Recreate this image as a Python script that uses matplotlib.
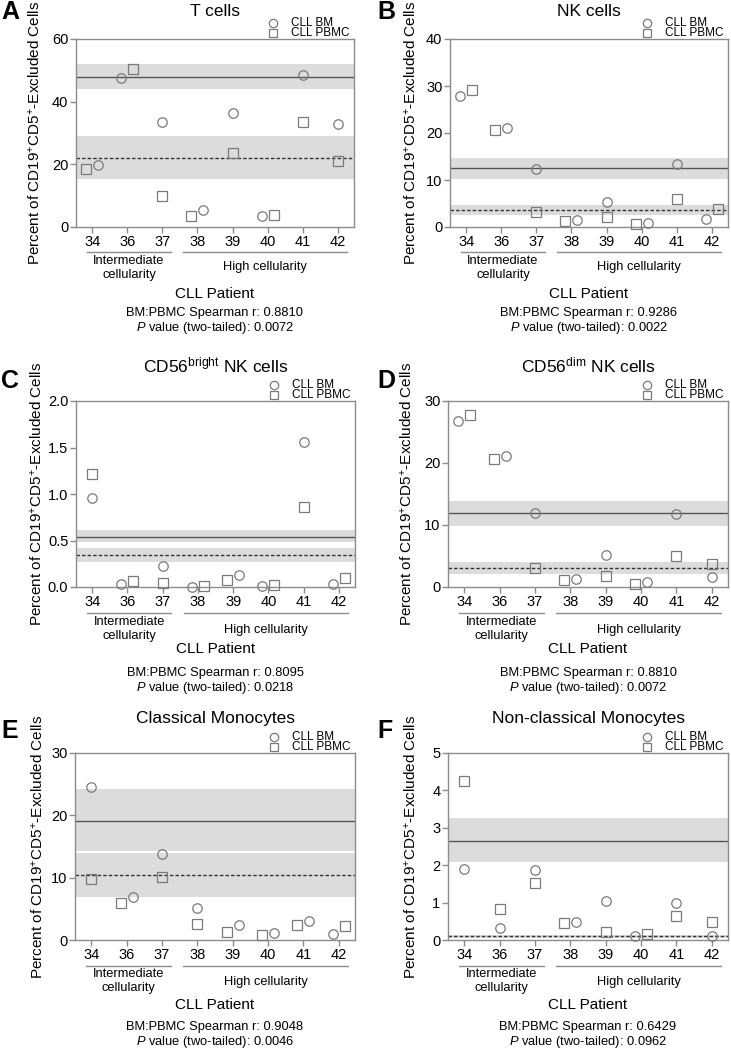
import numpy as np
import matplotlib
matplotlib.use('Agg')
import matplotlib.pyplot as plt
from matplotlib.transforms import blended_transform_factory

plt.rcParams['font.family'] = ['Liberation Sans', 'DejaVu Sans']
plt.rcParams['mathtext.fontset'] = 'custom'
plt.rcParams['mathtext.rm'] = 'Liberation Sans'
plt.rcParams['mathtext.it'] = 'Liberation Sans:italic'

patients = ['34', '36', '37', '38', '39', '40', '41', '42']

# values; *_ref = [line, band low, band high]
t_bm = [19.7, 47.7, 33.6, 5.4, 36.4, 3.6, 48.5, 33.0]
t_pbmc = [18.4, 50.3, 10.0, 3.4, 23.7, 3.8, 33.6, 21.0]
t_bm_ref = [48.0, 44.1, 52.0]
t_pbmc_ref = [21.9, 15.2, 29.0]

nk_bm = [27.9, 21.1, 12.3, 1.4, 5.3, 0.9, 13.5, 1.7]
nk_pbmc = [29.1, 20.6, 3.2, 1.3, 2.1, 0.7, 5.9, 3.9]
nk_bm_ref = [12.45, 10.3, 14.6]
nk_pbmc_ref = [3.56, 2.5, 4.6]

bright_bm = [0.955, 0.029, 0.225, 0.004, 0.132, 0.015, 1.556, 0.029]
bright_pbmc = [1.216, 0.064, 0.047, 0.014, 0.072, 0.020, 0.859, 0.100]
bright_bm_ref = [0.537, 0.479, 0.608]
bright_pbmc_ref = [0.343, 0.272, 0.415]

dim_bm = [26.8, 21.1, 12.0, 1.29, 5.1, 0.75, 11.8, 1.56]
dim_pbmc = [27.8, 20.6, 3.06, 1.13, 1.8, 0.54, 5.0, 3.76]
dim_bm_ref = [11.86, 9.77, 13.9]
dim_pbmc_ref = [3.11, 2.15, 4.03]

cmono_bm = [24.6, 6.9, 13.77, 5.2, 2.36, 1.12, 3.05, 0.91]
cmono_pbmc = [9.75, 6.0, 10.07, 2.6, 1.23, 0.8, 2.41, 2.2]
cmono_bm_ref = [19.12, 14.3, 24.26]
cmono_pbmc_ref = [10.45, 6.96, 13.93]

ncmono_bm = [1.91, 0.31, 1.87, 0.47, 1.05, 0.10, 1.00, 0.10]
ncmono_pbmc = [4.26, 0.82, 1.53, 0.455, 0.22, 0.16, 0.65, 0.49]
ncmono_bm_ref = [2.66, 2.09, 3.26]
ncmono_pbmc_ref = [0.098, 0.06, 0.14]

titles = ['T cells', 'NK cells', r'CD56$^{\mathrm{bright}}$ NK cells',
          r'CD56$^{\mathrm{dim}}$ NK cells', 'Classical Monocytes',
          'Non-classical Monocytes']
letters = ['A', 'B', 'C', 'D', 'E', 'F']
spearman_r = ['0.8810', '0.9286', '0.8095', '0.8810', '0.9048', '0.6429']
p_values = ['0.0072', '0.0022', '0.0218', '0.0072', '0.0046', '0.0962']

W, H = 731, 1050
fig = plt.figure(figsize=(W / 100, H / 100), dpi=100)


def fx(x):
    return x / W


def fy(y):
    return 1 - y / H


grey = '#8c8c8c'
band = '#dcdcdc'


def draw_panel(k, rect, bm, pbmc, bm_ref, pbmc_ref, ymax, yticks, yfmt, rows, ylab_x):
    l, t, r, b = rect
    ax = fig.add_axes([fx(l), fy(b), (r - l) / W, (b - t) / H])
    x = np.arange(len(patients))

    ax.axhspan(bm_ref[1], bm_ref[2], color=band, lw=0, zorder=0)
    ax.axhspan(pbmc_ref[1], pbmc_ref[2], color=band, lw=0, zorder=0)
    ax.axhline(bm_ref[0], color='#555555', lw=1, zorder=1)
    ax.axhline(pbmc_ref[0], color='#333333', lw=1, ls=(0, (2.5, 1.5)), zorder=1)

    # pairs that would overlap get pushed apart, lower one to the left
    xb, xp = [], []
    for i in range(len(x)):
        if abs(bm[i] - pbmc[i]) < 0.06 * ymax:
            d = -0.17 if bm[i] <= pbmc[i] else 0.17
        else:
            d = 0
        xb.append(x[i] + d)
        xp.append(x[i] - d)
    ax.plot(xb, bm, 'o', ms=6.8, mfc='none', mec='#7a7a7a', mew=0.9, clip_on=False, zorder=3)
    ax.plot(xp, pbmc, 's', ms=6.6, mfc='none', mec='#7a7a7a', mew=0.9, clip_on=False, zorder=3)

    ax.set_xlim(-0.46, 7.46)
    ax.set_ylim(0, ymax)
    ax.set_yticks(yticks)
    ax.set_yticklabels([yfmt.format(v) for v in yticks])
    ax.set_xticks(x)
    ax.set_xticklabels(patients)
    for s in ax.spines.values():
        s.set_color(grey)
        s.set_linewidth(1)
    ax.tick_params(color=grey, length=4, width=1, labelsize=10.5, pad=2)
    ax.tick_params(axis='y', pad=1.5)

    cx = (l + r) / 2
    # title, letter, y label
    fig.text(fx(cx), fy(rows[0]), titles[k], ha='center', va='center', fontsize=12.5)
    fig.text(fx(1 if l < 200 else 377), fy(rows[1]), letters[k], ha='left', va='center',
             fontsize=18, fontweight='bold')
    fig.text(fx(ylab_x), fy((t + b) / 2), r'Percent of CD19$^{+}$CD5$^{+}$-Excluded Cells',
             rotation=90, ha='center', va='center', fontsize=11)

    # legend
    ax.plot([fx(r - 81)], [fy(t - 16)], 'o', ms=6, mfc='none', mec='#7a7a7a', mew=0.9,
            transform=fig.transFigure, clip_on=False)
    ax.plot([fx(r - 81)], [fy(t - 6)], 's', ms=6, mfc='none', mec='#7a7a7a', mew=0.9,
            transform=fig.transFigure, clip_on=False)
    fig.text(fx(r - 63), fy(t - 16), 'CLL BM', ha='left', va='center', fontsize=8.5)
    fig.text(fx(r - 63), fy(t - 6), 'CLL PBMC', ha='left', va='center', fontsize=8.5)

    # cellularity groups under the x axis
    tr = blended_transform_factory(ax.transData, fig.transFigure)
    line_y, inter_y, high_y, pat_y, st1, st2 = rows[2:]
    ax.plot([-0.15, 2.25], [fy(line_y)] * 2, color=grey, lw=1, transform=tr, clip_on=False)
    ax.plot([2.6, 7.25], [fy(line_y)] * 2, color=grey, lw=1, transform=tr, clip_on=False)
    ax.text(1.05, fy(inter_y), 'Intermediate\ncellularity', transform=tr, ha='center',
            va='center', fontsize=9.3, linespacing=1.15)
    ax.text(4.93, fy(high_y), 'High cellularity', transform=tr, ha='center', va='center',
            fontsize=9.3)
    fig.text(fx(cx), fy(pat_y), 'CLL Patient', ha='center', va='center', fontsize=11)
    fig.text(fx(cx), fy(st1), 'BM:PBMC Spearman r: ' + spearman_r[k], ha='center',
             va='center', fontsize=9.3)
    fig.text(fx(cx), fy(st2), r'$\it{P}$ value (two-tailed): ' + p_values[k], ha='center',
             va='center', fontsize=9.3)
    return ax


row1 = [11, 12, 252, 268, 267, 294, 313, 328]
row2 = [365, 381, 613, 629, 630, 649, 673, 688]
row3 = [719, 731, 966, 981, 982, 1005, 1027, 1042]

draw_panel(0, (76, 39, 354, 227), t_bm, t_pbmc, t_bm_ref, t_pbmc_ref,
           60, [0, 20, 40, 60], '{:.0f}', row1, 35)
draw_panel(1, (450, 39, 728, 227), nk_bm, nk_pbmc, nk_bm_ref, nk_pbmc_ref,
           40, [0, 10, 20, 30, 40], '{:.0f}', row1, 411)
draw_panel(2, (76, 401, 355, 587), bright_bm, bright_pbmc, bright_bm_ref, bright_pbmc_ref,
           2.0, [0, 0.5, 1.0, 1.5, 2.0], '{:.1f}', row2, 37)
draw_panel(3, (448, 401, 728, 587), dim_bm, dim_pbmc, dim_bm_ref, dim_pbmc_ref,
           30, [0, 10, 20, 30], '{:.0f}', row2, 407)
draw_panel(4, (75, 753, 355, 940), cmono_bm, cmono_pbmc, cmono_bm_ref, cmono_pbmc_ref,
           30, [0, 10, 20, 30], '{:.0f}', row3, 38)
draw_panel(5, (448, 753, 728, 940), ncmono_bm, ncmono_pbmc, ncmono_bm_ref, ncmono_pbmc_ref,
           5, [0, 1, 2, 3, 4, 5], '{:.0f}', row3, 411)

fig.savefig('out.png', dpi=100)
